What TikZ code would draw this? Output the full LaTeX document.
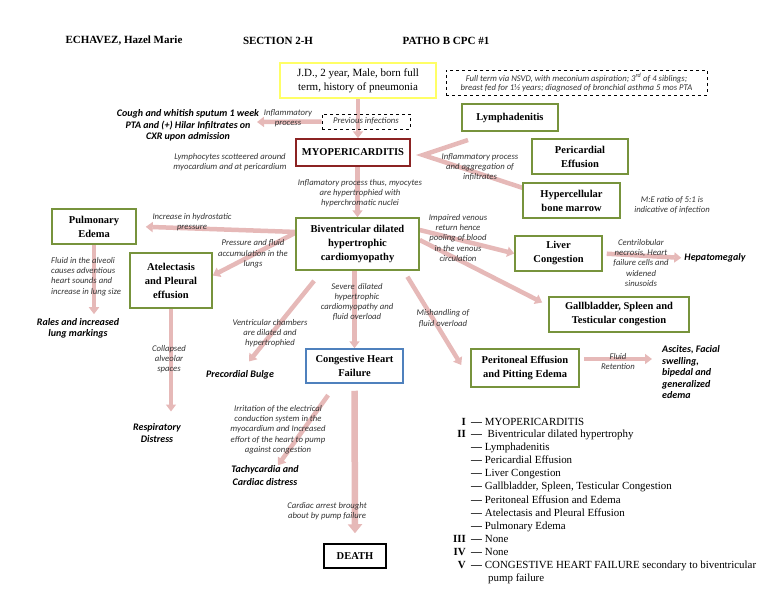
\documentclass[tikz,border=0pt]{standalone}
\usepackage{fontspec}
\setmainfont{Liberation Serif}
\newfontfamily\calfont{Carlito}
\usetikzlibrary{arrows.meta,backgrounds}
\definecolor{flowpink}{HTML}{E6B9B8}
\definecolor{boxgreen}{HTML}{77933C}
\definecolor{myored}{HTML}{8B2323}
\definecolor{chfblue}{HTML}{4F81BD}
\definecolor{jdyellow}{HTML}{FFFF66}
\definecolor{notegray}{HTML}{333333}
\tikzset{
  box/.style={draw=boxgreen, line width=1.5pt, fill=white, align=center, inner sep=1pt,
    font=\fontsize{10.5}{14}\selectfont\bfseries},
  dashbox/.style={draw=black, dashed, line width=0.8pt, align=center, inner sep=1pt,
    font=\calfont\itshape\fontsize{8.7}{9.5}\selectfont, text=notegray},
  note/.style={align=center, inner sep=0pt, text=notegray,
    font=\calfont\itshape\fontsize{8.7}{10.3}\selectfont},
  effect/.style={align=center, inner sep=0pt,
    font=\calfont\bfseries\itshape\fontsize{10}{11.5}\selectfont},
  flow/.style={draw=flowpink, line width=4.5pt, -{Triangle[width=10pt,length=7pt]}},
  flowline/.style={draw=flowpink, line width=4.5pt},
  legend/.style={anchor=base west, inner sep=0pt, font=\fontsize{10.9}{13}\selectfont},
  legnum/.style={anchor=base east, inner sep=0pt, font=\fontsize{10.9}{13}\selectfont\bfseries},
}
\begin{document}
\begin{tikzpicture}[x=1pt,y=-1pt]
\useasboundingbox (0,0) rectangle (768,594);
% header
\node[font=\fontsize{11}{13}\selectfont\bfseries] (name) at (124,41) {ECHAVEZ, Hazel Marie};
\node[font=\fontsize{11}{13}\selectfont\bfseries] (section) at (278,41) {SECTION 2-H};
\node[font=\fontsize{11}{13}\selectfont\bfseries] (patho) at (446,41) {PATHO B CPC \#1};

% boxes
\node[box, draw=jdyellow, font=\fontsize{11}{14}\selectfont, minimum width=156pt, minimum height=35pt] (jd) at (358,80.5)
  {J.D., 2 year, Male, born full\\term, history of pneumonia};
\node[dashbox, minimum width=261pt, minimum height=25pt] (fullterm) at (576.5,82.5)
  {Full term via NSVD, with meconium aspiration; 3\textsuperscript{rd} of 4 siblings;\\breast fed for 1½ years; diagnosed of bronchial asthma 5 mos PTA};
\node[dashbox, minimum width=88pt, minimum height=15pt] (prev) at (366,121.5) {Previous infections};
\node[box, draw=myored, minimum width=114pt, minimum height=27pt] (myo) at (353,152.5) {MYOPERICARDITIS};
\node[box, minimum width=96pt, minimum height=27pt] (lymph) at (510,117.5) {Lymphadenitis};
\node[box, minimum width=96pt, minimum height=35pt] (peri) at (580,156.5) {Pericardial\\Effusion};
\node[box, minimum width=97pt, minimum height=35pt] (hyper) at (571.5,200.5) {Hypercellular\\bone marrow};
\node[box, minimum width=84pt, minimum height=35pt] (pulm) at (94,226.5) {Pulmonary\\Edema};
\node[box, minimum width=82pt, minimum height=55pt] (atel) at (171,280.5) {Atelectasis\\and Pleural\\effusion};
\node[box, minimum width=123pt, minimum height=52pt] (biv) at (357.5,244) {Biventricular dilated\\hypertrophic\\cardiomyopathy};
\node[box, minimum width=87pt, minimum height=35pt] (liver) at (558.5,253.5) {Liver\\Congestion};
\node[box, minimum width=140pt, minimum height=35pt] (gall) at (619,314.5) {Gallbladder, Spleen and\\Testicular congestion};
\node[box, minimum width=108pt, minimum height=38pt] (perit) at (525,368) {Peritoneal Effusion\\and Pitting Edema};
\node[box, draw=chfblue, minimum width=97pt, minimum height=34pt] (chf) at (354.5,366) {Congestive Heart\\Failure};
\node[box, draw=black, minimum width=62pt, minimum height=24pt] (death) at (355,556) {DEATH};

% notes on the arrows
\node[note] (inflam) at (288,118) {Inflammatory\\process};
\node[note] (lympho) at (230,162) {Lymphocytes scotteered around\\myocardium and at pericardium};
\node[note] (aggreg) at (480,167) {Inflammatory process\\and aggregation of\\infiltrates};
\node[note] (meratio) at (672,205) {M:E ratio of 5:1 is\\indicative of infection};
\node[note] (myocytes) at (360,193) {Inflamatory process thus, myocytes\\are hypertrophied with\\hyperchromatic nuclei};
\node[note] (hydro) at (192,222) {Increase in hydrostatic\\pressure};
\node[note] (pressure) at (253,254) {Pressure and fluid\\accumulation in the\\lungs};
\node[note] (impaired) at (458,238) {Impaired venous\\return hence\\pooling of blood\\in the venous\\circulation};
\node[note] (centri) at (641,263) {Centrilobular\\necrosis, Heart\\failure cells and\\widened\\sinusoids};
\node[note] (severe) at (357,302) {Severe\, dilated\\hypertrophic\\cardiomyopathy and\\fluid overload};
\node[note] (mishand) at (443,318.5) {Mishandling of\\fluid overload};
\node[note] (retention) at (618,361.5) {Fluid\\Retention};
\node[note, align=left, anchor=west] (alveoli) at (51,276.5) {Fluid in the alveoli\\causes adventious\\heart sounds and\\increase in lung size};
\node[note] (collapsed) at (169,359) {Collapsed\\alveolar\\spaces};
\node[note] (ventric) at (270,333) {Ventricular chambers\\are dilated and\\hypertrophied};
\node[note] (irritation) at (278,429.5) {Irritation of the electrical\\conduction system in the\\myocardium and Increased\\effort of the heart to pump\\against congestion};
\node[note] (arrest) at (327,511) {Cardiac arrest brought\\about by pump failure};

% outcomes
\node[effect] (cough) at (188,125.5) {Cough and whitish sputum 1 week\\PTA and (+) Hilar Infiltrates on\\CXR upon admission};
\node[effect] (hepa) at (715,258) {Hepatomegaly};
\node[effect, align=left, anchor=west] (ascites) at (662,372.5) {Ascites, Facial\\swelling,\\bipedal and\\generalized\\edema};
\node[effect] (rales) at (78,328.5) {Rales and increased\\lung markings};
\node[effect] (precordial) at (240,375) {Precordial Bulge};
\node[effect] (resp) at (157,433) {Respiratory\\Distress};
\node[effect, font=\calfont\bfseries\itshape\fontsize{10}{13}\selectfont] (tachy) at (265,475.5) {Tachycardia and\\Cardiac distress};

% free ends
\coordinate (coughin) at (257,122);
\coordinate (myofan) at (423,155);
\coordinate (lymphfoot) at (468,140);
\coordinate (hyperfoot) at (523,188);
\coordinate (bivleft) at (297,232);
\coordinate (ascin) at (652,359);

\begin{scope}[on background layer]
\draw[flow] (jd.south) -- (jd.south |- myo.north);
\draw[flow] (prev.west) -- (coughin);
\draw[flowline] (lymphfoot) -- (myofan) -- (hyperfoot);
\draw[flow] (myo.south -| biv.north) -- (biv.north);
\draw[flow, shorten >=9pt] (bivleft) -- (pulm.east);
\draw[flow] (bivleft) -- ([yshift=5pt]atel.east);
\draw[flow, shorten >=4pt] (pulm.south) -- (pulm.south |- rales.north);
\draw[flow, shorten >=12pt] (atel.south) -- (atel.south |- resp.north);
\draw[flow, shorten <=13pt] ([xshift=27pt]biv.south west) -- ([xshift=9pt,yshift=9pt]precordial.north);
\draw[flow] (chf.north |- biv.south) -- (chf.north);
\draw[flow, shorten <=7pt] ([xshift=-16pt]biv.south east) -- ([xshift=-9pt,yshift=3pt]perit.west);
\draw[flow] ([yshift=14pt]biv.east) -- (liver.west);
\draw[flow] ([yshift=4pt]biv.east) -- ([xshift=-6pt,yshift=12pt]gall.west);
\draw[flow, shorten <=4pt, shorten >=3pt] (liver.east) -- (hepa.west);
\draw[flow, shorten <=4pt] ([yshift=9pt]perit.east) -- (ascin);
\draw[flow, shorten <=14pt] ([xshift=31pt]chf.south west) -- ([xshift=13pt]tachy.north);
\draw[flow, line width=6.5pt, -{Triangle[width=14pt,length=9pt]}, shorten <=7pt, shorten >=10pt] (chf.south) -- (death.north);
\end{scope}

% legend
\node[legnum] (numI) at (466,425) {I};
\node[legend] (leg1) at (471,425) {\textbf{—}\ MYOPERICARDITIS};
\node[legnum] (numII) at (466,437.5) {II};
\node[legend] (leg2) at (471,437.5) {\textbf{—}\ \ Biventricular dilated hypertrophy};
\node[legend] (leg3) at (471,450.5) {\textbf{—}\ Lymphadenitis};
\node[legend] (leg4) at (471,463.5) {\textbf{—}\ Pericardial Effusion};
\node[legend] (leg5) at (471,476.5) {\textbf{—}\ Liver Congestion};
\node[legend] (leg6) at (471,489.5) {\textbf{—}\ Gallbladder, Spleen, Testicular Congestion};
\node[legend] (leg7) at (471,503) {\textbf{—}\ Peritoneal Effusion and Edema};
\node[legend] (leg8) at (471,516) {\textbf{—}\ Atelectasis and Pleural Effusion};
\node[legend] (leg9) at (471,529) {\textbf{—}\ Pulmonary Edema};
\node[legnum] (numIII) at (466,542) {III};
\node[legend] (leg10) at (471,542) {\textbf{—}\ None};
\node[legnum] (numIV) at (466,555) {IV};
\node[legend] (leg11) at (471,555) {\textbf{—}\ None};
\node[legnum] (numV) at (466,568) {V};
\node[legend] (leg12) at (471,568) {\textbf{—}\ CONGESTIVE HEART FAILURE secondary to biventricular};
\node[legend] (leg13) at (488,581) {pump failure};
\end{tikzpicture}
\end{document}
